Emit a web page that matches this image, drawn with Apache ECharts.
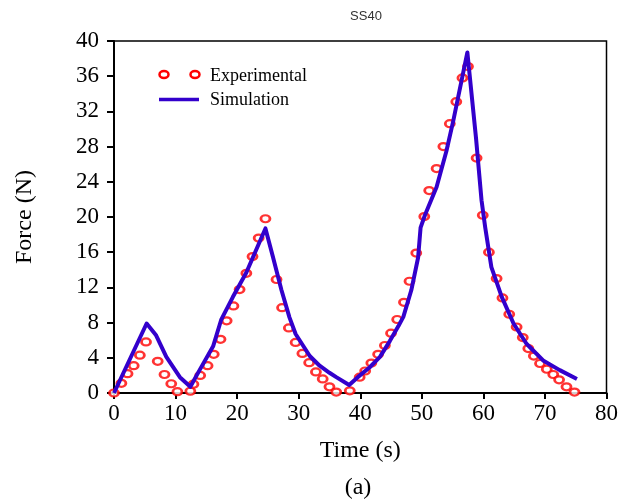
<!DOCTYPE html>
<html>
<head>
<meta charset="utf-8">
<script src="https://cdn.jsdelivr.net/npm/echarts@6/dist/echarts.min.js"></script>
<style>html,body{margin:0;padding:0;background:#fff}#c{width:621px;height:501px}</style>
</head>
<body>
<div id="c"></div>
<script>
// Experimental data (time s, force N)
const expTime  = [0, 1.2, 2.2, 3.2, 4.2, 5.2, 7.1, 8.2, 9.3, 10.3, 12.4, 12.9, 14.0, 15.2, 16.2, 17.3, 18.3, 19.4, 20.4, 21.5, 22.5, 23.5, 24.6, 26.4, 27.3, 28.4, 29.5, 30.6, 31.7, 32.8, 33.9, 35.0, 36.1, 38.3, 39.9, 40.8, 41.8, 42.9, 44.0, 45.0, 46.0, 47.1, 48.0, 49.1, 50.4, 51.2, 52.4, 53.5, 54.55, 55.6, 56.6, 57.5, 58.9, 59.9, 60.9, 62.15, 63.1, 64.2, 65.4, 66.4, 67.3, 68.2, 69.2, 70.3, 71.35, 72.3, 73.5, 74.8];
const expForce = [0, 1.1, 2.2, 3.1, 4.3, 5.8, 3.6, 2.1, 1.05, 0.15, 0.2, 1.0, 2.0, 3.1, 4.4, 6.1, 8.2, 9.9, 11.75, 13.6, 15.5, 17.6, 19.8, 12.9, 9.7, 7.4, 5.75, 4.5, 3.45, 2.4, 1.6, 0.7, 0.1, 0.25, 1.8, 2.5, 3.4, 4.4, 5.4, 6.8, 8.35, 10.3, 12.7, 15.9, 20.05, 23.0, 25.5, 28.0, 30.6, 33.1, 35.8, 37.1, 26.7, 20.2, 16.0, 13.0, 10.8, 8.95, 7.5, 6.3, 5.05, 4.2, 3.35, 2.7, 2.1, 1.5, 0.7, 0.1];
// Simulation data
const simTime  = [0, 5.3, 6.8, 8.5, 10.7, 12.4, 13.9, 16.1, 17.4, 19.3, 21.5, 24.6, 25.8, 27.2, 28.5, 29.5, 30.7, 31.8, 33.4, 35.0, 36.1, 38.2, 39.6, 41.5, 43.2, 44.8, 46.2, 47.0, 48.3, 49.4, 49.8, 50.5, 52.4, 54.0, 55.1, 57.4, 58.8, 59.7, 60.3, 61.3, 63.0, 64.9, 67.0, 69.7, 72.4, 75.2];
const simForce = [0, 7.9, 6.6, 4.1, 1.8, 0.7, 2.6, 5.3, 8.3, 10.9, 13.7, 18.7, 15.5, 11.7, 8.6, 6.7, 5.4, 4.2, 3.1, 2.3, 1.8, 0.9, 1.8, 2.9, 4.1, 5.9, 7.6, 8.65, 11.7, 15.4, 18.8, 20.2, 23.4, 27.5, 30.9, 38.7, 29.0, 21.9, 18.8, 14.3, 10.9, 7.9, 5.6, 3.7, 2.6, 1.6];
// Axis settings
const xMin = 0, xMax = 80, xStep = 10;
const yMin = 0, yMax = 40, yStep = 4;
const seriesNames = ['Experimental', 'Simulation'];

const serif = '"Liberation Serif","Times New Roman",serif';
const red = '#ff0000', blue = '#3300cc';

const chart = echarts.init(document.getElementById('c'), null, {renderer: 'canvas'});
chart.setOption({
  animation: false,
  backgroundColor: '#fff',
  title: {
    text: 'SS40', left: 361, top: 5, textAlign: 'center',
    textStyle: {fontSize: 13, fontWeight: 'normal', color: '#333', fontFamily: '"Liberation Sans",Arial,sans-serif'}
  },
  grid: {left: 114, right: 14, top: 41, bottom: 108, show: true, borderColor: '#000', borderWidth: 1.5, backgroundColor: 'transparent'},
  xAxis: {
    type: 'value', min: xMin, max: xMax, interval: xStep,
    name: 'Time (s)', nameLocation: 'middle', nameGap: 46,
    nameTextStyle: {fontSize: 24, color: '#000', fontFamily: serif},
    axisLine: {lineStyle: {color: '#000', width: 2}},
    axisTick: {inside: false, length: 6, lineStyle: {color: '#000', width: 2}},
    axisLabel: {fontSize: 23, color: '#000', fontFamily: serif, margin: 9},
    splitLine: {show: false}
  },
  yAxis: {
    type: 'value', min: yMin, max: yMax, interval: yStep,
    name: 'Force (N)', nameLocation: 'middle', nameGap: 77,
    nameTextStyle: {fontSize: 24, color: '#000', fontFamily: serif},
    axisLine: {lineStyle: {color: '#000', width: 2}},
    axisTick: {inside: false, length: 7, lineStyle: {color: '#000', width: 2}},
    axisLabel: {fontSize: 23, color: '#000', fontFamily: serif, margin: 15},
    splitLine: {show: false}
  },
  series: [
    {
      name: seriesNames[0], type: 'scatter', clip: false, z: 2,
      data: expTime.map((t, i) => [t, expForce[i]]),
      symbol: 'circle', symbolSize: [9, 7],
      itemStyle: {color: '#fff', borderColor: red, borderWidth: 2.5}
    },
    {
      name: seriesNames[1], type: 'line', z: 3, showSymbol: false, symbol: 'none', smooth: false,
      data: simTime.map((t, i) => [t, simForce[i]]),
      lineStyle: {color: blue, width: 4, join: 'round'}
    }
  ],
  graphic: [
    {type: 'ellipse', shape: {cx: 164, cy: 74.5, rx: 4.5, ry: 3.5}, style: {fill: '#fff', stroke: red, lineWidth: 2.5}},
    {type: 'ellipse', shape: {cx: 195, cy: 74.5, rx: 4.5, ry: 3.5}, style: {fill: '#fff', stroke: red, lineWidth: 2.5}},
    {type: 'text', x: 210, y: 76, style: {text: seriesNames[0], font: '18px ' + serif, fill: '#000', textVerticalAlign: 'middle', verticalAlign: 'middle'}},
    {type: 'line', shape: {x1: 159, y1: 99.5, x2: 199, y2: 99.5}, style: {stroke: blue, lineWidth: 3.5}},
    {type: 'text', x: 210, y: 100, style: {text: seriesNames[1], font: '18px ' + serif, fill: '#000', textVerticalAlign: 'middle', verticalAlign: 'middle'}},
    {type: 'text', x: 358, y: 488, style: {text: '(a)', font: '24px ' + serif, fill: '#000', align: 'center', verticalAlign: 'middle', textAlign: 'center', textVerticalAlign: 'middle'}}
  ]
});
</script>
</body>
</html>
